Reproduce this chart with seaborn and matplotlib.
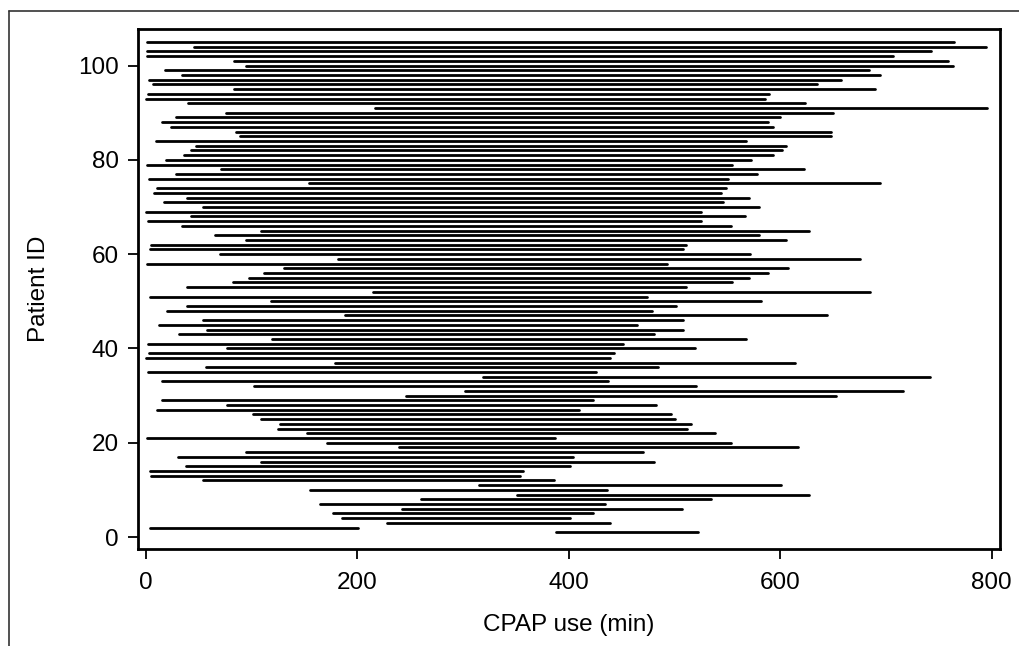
import pandas as pd
import numpy as np
import seaborn as sns
import matplotlib.pyplot as plt
from matplotlib.lines import Line2D

## Data: CPAP use start / end (min) for each patient
patient_id = list(range(1, 106))
start_min = [388, 4, 228, 185, 177, 242, 165, 260, 351, 155,
             315, 54, 5, 4, 38, 109, 30, 95, 239, 171,
             1, 152, 125, 127, 109, 101, 10, 77, 15, 246,
             302, 102, 15, 319, 2, 57, 179, 0, 3, 77,
             2, 119, 31, 58, 12, 54, 188, 20, 39, 118,
             4, 215, 39, 82, 97, 112, 131, 1, 182, 70,
             4, 5, 95, 65, 109, 34, 2, 43, 0, 54,
             17, 39, 8, 10, 154, 3, 28, 71, 1, 19,
             36, 43, 47, 9, 89, 85, 24, 15, 28, 76,
             217, 40, 0, 2, 83, 7, 3, 34, 18, 95,
             83, 1, 1, 45, 1]
end_min = [522, 201, 439, 401, 423, 507, 434, 534, 627, 436,
           601, 386, 354, 357, 401, 481, 404, 470, 617, 553,
           387, 538, 512, 516, 500, 497, 410, 482, 423, 653,
           716, 520, 437, 742, 426, 484, 614, 439, 443, 519,
           451, 568, 481, 508, 464, 508, 644, 479, 501, 582,
           474, 685, 511, 554, 570, 588, 607, 493, 675, 571,
           508, 511, 605, 580, 627, 553, 525, 567, 525, 580,
           546, 570, 544, 549, 694, 551, 578, 622, 554, 572,
           593, 602, 605, 568, 648, 648, 593, 588, 600, 650,
           796, 623, 586, 589, 690, 635, 657, 694, 684, 763,
           759, 707, 743, 795, 764]

x_ticks = [0, 200, 400, 600, 800]
y_ticks = [0, 20, 40, 60, 80, 100]

# long format: two rows (start, end) per patient
df = pd.DataFrame({
    "pid": patient_id * 2,
    "minute": start_min + end_min,
})
df["row"] = df["pid"]
df = df.sort_values(["pid", "minute"])

sns.set_style("ticks")
plt.rcParams["font.family"] = ["Liberation Sans", "DejaVu Sans"]
plt.rcParams["text.color"] = "black"
plt.rcParams["axes.labelcolor"] = "black"
plt.rcParams["xtick.color"] = "black"
plt.rcParams["ytick.color"] = "black"

fig = plt.figure(figsize=(10.19, 6.46), dpi=100)
ax = fig.add_axes([0.1351, 0.1497, 0.9814 - 0.1351, 0.9546 - 0.1497])

sns.lineplot(data=df, x="minute", y="row", units="pid", estimator=None,
             sort=False, color="black", linewidth=2.0, ax=ax)

ax.set_xlim(-7.9, 807.9)
ax.set_ylim(-2.6, 107.7)
ax.set_xticks(x_ticks)
ax.set_yticks(y_ticks)
ax.tick_params(axis="both", labelsize=17.5, length=7.5, width=1.3,
               color="black", labelcolor="black")
ax.tick_params(axis="x", pad=9)
ax.tick_params(axis="y", pad=6)
ax.set_xlabel("CPAP use (min)", fontsize=17.5, labelpad=14, color="black")
ax.set_ylabel("Patient ID", fontsize=17.5, labelpad=20, color="black")
for s in ax.spines.values():
    s.set_visible(True)
    s.set_color("black")
    s.set_linewidth(2)

# outer figure border (top and left visible)
fig.add_artist(Line2D([9 / 1019, 9 / 1019], [0, 1 - 11 / 646], transform=fig.transFigure,
                      color="#333333", linewidth=1.2))
fig.add_artist(Line2D([9 / 1019, 1], [1 - 11 / 646, 1 - 11 / 646], transform=fig.transFigure,
                      color="#333333", linewidth=1.2))

fig.savefig("out.png", dpi=100)
